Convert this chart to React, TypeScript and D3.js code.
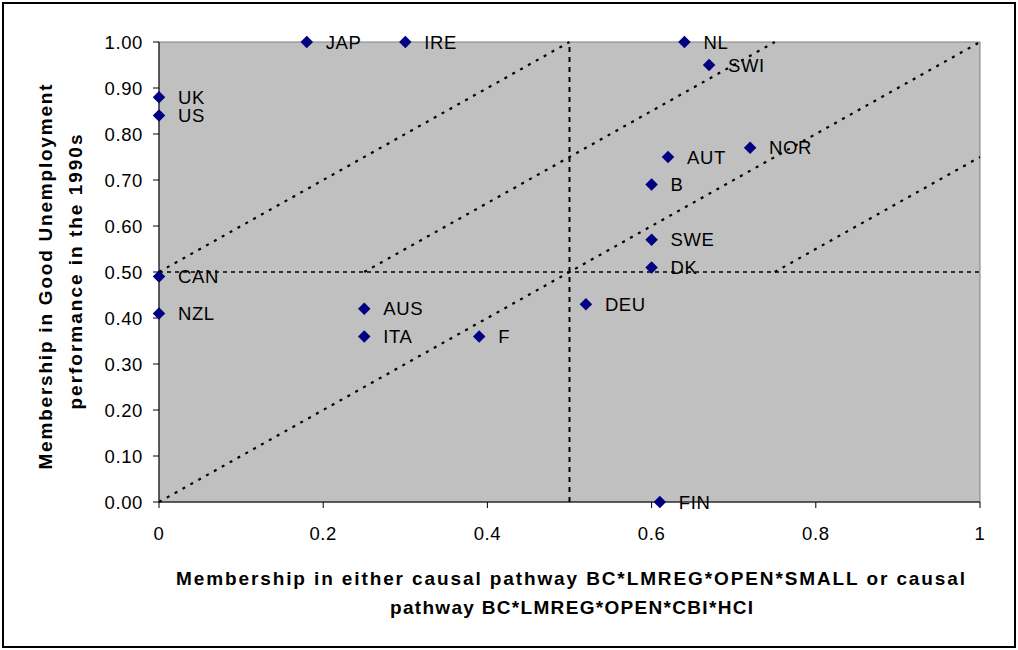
import React from "react";
import * as d3 from "d3";

const countries = ["JAP", "IRE", "NL", "SWI", "UK", "US", "AUT", "NOR", "B", "SWE", "DK", "CAN", "NZL", "AUS", "ITA", "F", "DEU", "FIN"];
const xValues = [0.18, 0.30, 0.64, 0.67, 0, 0, 0.62, 0.72, 0.60, 0.60, 0.60, 0, 0, 0.25, 0.25, 0.39, 0.52, 0.61];
const yValues = [1.00, 1.00, 1.00, 0.95, 0.88, 0.84, 0.75, 0.77, 0.69, 0.57, 0.51, 0.49, 0.41, 0.42, 0.36, 0.36, 0.43, 0.00];
const xTicks = [0, 0.2, 0.4, 0.6, 0.8, 1];
const yTicks = [0, 0.1, 0.2, 0.3, 0.4, 0.5, 0.6, 0.7, 0.8, 0.9, 1.0];
// reference diagonal segments [x1, y1, x2, y2]
const diagonals = [
  [0, 0, 1, 1],
  [0, 0.5, 0.5, 1],
  [0.25, 0.5, 0.75, 1],
  [0.75, 0.5, 1, 0.75],
];
const xTitle = ["Membership in either causal pathway BC*LMREG*OPEN*SMALL or causal", "pathway BC*LMREG*OPEN*CBI*HCI"];
const yTitle = ["Membership in Good Unemployment", "performance in the 1990s"];

const W = 1018, H = 650;
const L = 159, R = 980, T = 42, B = 502;

export default function App() {
  const x = d3.scaleLinear().domain([0, 1]).range([L, R]);
  const y = d3.scaleLinear().domain([0, 1]).range([B, T]);
  const font = "Arial, 'Liberation Sans', sans-serif";
  const diamond = d3.symbol().type(d3.symbolDiamond2).size(100)();
  return (
    <svg width={W} height={H} style={{ position: "absolute", left: 0, top: 0 }} fontFamily={font}>
      <rect x={0} y={0} width={W} height={H} fill="#fff" />
      <rect x={3} y={3} width={1012} height={644} fill="none" stroke="#000" strokeWidth={2} />
      <rect x={L} y={T} width={R - L} height={B - T} fill="#c0c0c0" stroke="#808080" strokeWidth={1} />
      {/* reference lines */}
      <line x1={x(0)} x2={x(1)} y1={y(0.5)} y2={y(0.5)} stroke="#000" strokeWidth={1.5} strokeDasharray="4,4" />
      <line x1={x(0.5)} x2={x(0.5)} y1={y(0)} y2={y(1)} stroke="#000" strokeWidth={2} strokeDasharray="5,5" />
      {diagonals.map((d, i) => (
        <line key={i} x1={x(d[0])} y1={y(d[1])} x2={x(d[2])} y2={y(d[3])} stroke="#000" strokeWidth={2.2} strokeDasharray="3,6" />
      ))}
      {/* axes */}
      <line x1={L} x2={L} y1={T} y2={B} stroke="#000" />
      <line x1={L} x2={R} y1={B} y2={B} stroke="#000" />
      {yTicks.map((t) => (
        <g key={"y" + t}>
          <line x1={L - 6} x2={L} y1={y(t)} y2={y(t)} stroke="#000" />
          <text x={143} y={y(t)} dy="0.36em" textAnchor="end" fontSize={18.5} letterSpacing={0.6}>{t.toFixed(2)}</text>
        </g>
      ))}
      {xTicks.map((t) => (
        <g key={"x" + t}>
          <line x1={x(t)} x2={x(t)} y1={B} y2={B + 6} stroke="#000" />
          <text x={x(t)} y={540} textAnchor="middle" fontSize={18.5} letterSpacing={0.6}>{String(t)}</text>
        </g>
      ))}
      {/* points */}
      {countries.map((c, i) => (
        <g key={c}>
          <path d={diamond} transform={`translate(${x(xValues[i])},${y(yValues[i])})`} fill="#000080" />
          <text x={x(xValues[i]) + 19} y={y(yValues[i])} dy="0.36em" fontSize={18.5} letterSpacing={0.6}>{c}</text>
        </g>
      ))}
      {/* axis titles */}
      <text x={570.5} y={585} textAnchor="middle" fontSize={19} fontWeight="bold" textLength={789} lengthAdjust="spacing">{xTitle[0]}</text>
      <text x={571.5} y={614} textAnchor="middle" fontSize={19} fontWeight="bold" textLength={363} lengthAdjust="spacing">{xTitle[1]}</text>
      <text transform="translate(52,277) rotate(-90)" textAnchor="middle" fontSize={19} fontWeight="bold" textLength={385} lengthAdjust="spacing">{yTitle[0]}</text>
      <text transform="translate(82,272) rotate(-90)" textAnchor="middle" fontSize={19} fontWeight="bold" textLength={275} lengthAdjust="spacing">{yTitle[1]}</text>
    </svg>
  );
}
